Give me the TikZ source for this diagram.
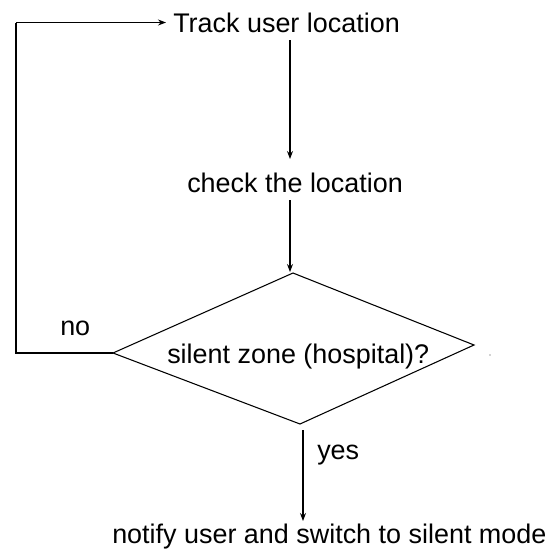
\documentclass[tikz,border=0pt]{standalone}
\usepackage{fontspec}
\setmainfont{Liberation Sans}
\usetikzlibrary{arrows.meta}

\begin{document}
\begin{tikzpicture}[x=0.75pt,y=-0.75pt,
  txt/.style={inner sep=0pt,anchor=base west,font=\fontsize{20.2}{24}\selectfont},
  flow/.style={-{Stealth[length=6pt,width=4.5pt]},line width=0.8pt},
  line/.style={line width=0.8pt}]
\useasboundingbox (0,0) rectangle (558,551);
% texts
\node [txt] (track) at (173,32) {Track user location};
\node [txt] (check) at (187,192) {check the location};
\node [txt] (zone) at (167,363) {silent zone (hospital)?};
\node [txt] (notify) at (112,543) {notify user and switch to silent mode};
\node [txt] (no) at (60,335) {no};
\node [txt] (yes) at (317,459) {yes};
% decision box
\coordinate (dt) at (293,273);
\coordinate (dr) at (474,345);
\coordinate (db) at (300,424);
\coordinate (dl) at (113,353);
\draw [line] (dt) -- (dr) -- (db) -- (dl) -- cycle;
\fill [gray!70] (490,355) circle (0.8);
% connectors
\coordinate (a1) at (290,40);
\coordinate (a2) at (290,159);
\coordinate (b1) at (290,200);
\coordinate (b2) at (290,272);
\coordinate (c1) at (16,353);
\coordinate (c2) at (16,22.5);
\coordinate (c3) at (166,22.5);
\coordinate (e1) at (303,430);
\coordinate (e2) at (303,521);

\draw [flow] (a1) -- (a2);
\draw [flow] (b1) -- (b2);
\draw [line] (dl) -- (c1) -- (c2);
\draw [flow] (c2) -- (c3);
\draw [flow] (e1) -- (e2);
\end{tikzpicture}
\end{document}
